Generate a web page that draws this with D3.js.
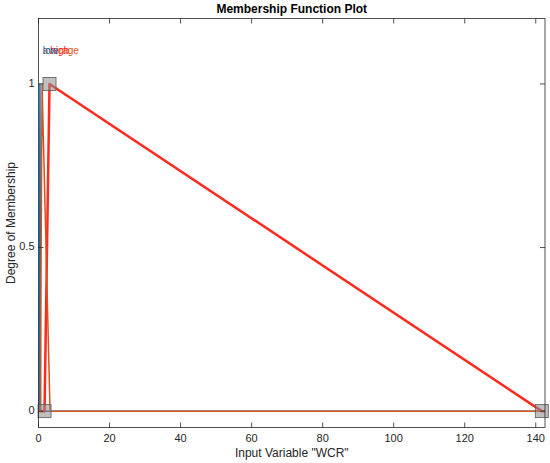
<!DOCTYPE html>
<html><head><meta charset="utf-8">
<script src="https://cdn.jsdelivr.net/npm/d3@7"></script>
<style>
html,body{margin:0;padding:0;background:#fff;}
text{font-family:"Liberation Sans",Arial,Helvetica,sans-serif;}
</style></head>
<body>
<svg id="c" width="550" height="463"></svg>
<script>
// ---- data ----
const mfNames = ["low", "average", "high"];
const mfColors = ["#0072BD", "#D95319", "#FF2A1F"];
const mfParams = [            // trimf [a, b, c]
  [0.2, 0.4, 0.6],
  [0.5, 1.0, 3.25],
  [1.7, 3.1, 141.7]
];
const labelX = [1.2, 1.2, 3.3];
const selectedMF = 2;
const xRange = [0, 142.6];
const yRange = [-0.05, 1.2];
const xTicks = [0, 20, 40, 60, 80, 100, 120, 140];
const yTicks = [0, 0.5, 1];
const yTickLabels = ["0", "0.5", "1"];
const titleText = "Membership Function Plot";
const xLabelText = 'Input Variable "WCR"';
const yLabelText = "Degree of Membership";
const drawOrder = [0, 2, 1];
const labelOrder = [1, 2, 0];

// ---- layout ----
const L = 38.5, R = 545, T = 18.5, B = 427.5;
const svg = d3.select("#c");
const x = d3.scaleLinear().domain(xRange).range([L, R]);
const y = d3.scaleLinear().domain(yRange).range([B, T]);
const axisColor = "#262626";

// title
svg.append("text").attr("x", (L + R) / 2).attr("y", 13)
  .attr("text-anchor", "middle").attr("font-weight", "bold")
  .attr("font-size", 12).attr("fill", "#000").text(titleText);

// mf lines
const line = d3.line().x(d => x(d[0])).y(d => y(d[1]));
function mfPts(p) {
  return [[xRange[0], 0], [p[0], 0], [p[1], 1], [p[2], 0], [xRange[1], 0]];
}
drawOrder.forEach(i => {
  svg.append("path").attr("d", line(mfPts(mfParams[i])))
    .attr("fill", "none").attr("stroke", mfColors[i])
    .attr("stroke-width", i === selectedMF ? 2.5 : 1.5)
    .attr("stroke-linejoin", "round");
});

// vertex squares for selected mf
const sp = mfParams[selectedMF];
[[sp[0], 0], [sp[1], 1], [sp[2], 0]].forEach(d => {
  svg.append("rect").attr("x", x(d[0]) - 6.5).attr("y", y(d[1]) - 6.5)
    .attr("width", 13).attr("height", 13)
    .attr("fill", "#8c8c8c").attr("fill-opacity", 0.55)
    .attr("stroke", "#5a5a5a").attr("stroke-width", 0.8);
});

// labels
labelOrder.forEach(i => {
  svg.append("text").attr("x", x(labelX[i])).attr("y", y(1.1))
    .attr("dominant-baseline", "middle").attr("font-size", 10)
    .attr("fill", mfColors[i]).text(mfNames[i]);
});

// frame
svg.append("rect").attr("x", L).attr("y", T).attr("width", R - L).attr("height", B - T)
  .attr("fill", "none").attr("stroke", axisColor).attr("stroke-width", 0.8);

// ticks
const tl = 5;
const g = svg.append("g").attr("stroke", axisColor).attr("stroke-width", 0.8);
xTicks.forEach(t => {
  g.append("line").attr("x1", x(t)).attr("x2", x(t)).attr("y1", B).attr("y2", B - tl);
  g.append("line").attr("x1", x(t)).attr("x2", x(t)).attr("y1", T).attr("y2", T + tl);
});
yTicks.forEach(t => {
  g.append("line").attr("x1", L).attr("x2", L + tl).attr("y1", y(t)).attr("y2", y(t));
  g.append("line").attr("x1", R).attr("x2", R - tl).attr("y1", y(t)).attr("y2", y(t));
});
xTicks.forEach(t => {
  svg.append("text").attr("x", x(t)).attr("y", B + 14).attr("text-anchor", "middle")
    .attr("font-size", 11).attr("fill", axisColor).text(t);
});
yTicks.forEach((t, i) => {
  svg.append("text").attr("x", L - 4).attr("y", y(t)).attr("text-anchor", "end")
    .attr("dominant-baseline", "middle").attr("font-size", 11).attr("fill", axisColor)
    .text(yTickLabels[i]);
});

// axis labels
svg.append("text").attr("x", (L + R) / 2).attr("y", 457).attr("text-anchor", "middle")
  .attr("font-size", 12).attr("fill", axisColor).text(xLabelText);
svg.append("text").attr("transform", `translate(15,${(T + B) / 2}) rotate(-90)`)
  .attr("text-anchor", "middle").attr("font-size", 12).attr("fill", axisColor).text(yLabelText);
</script>
</body></html>
